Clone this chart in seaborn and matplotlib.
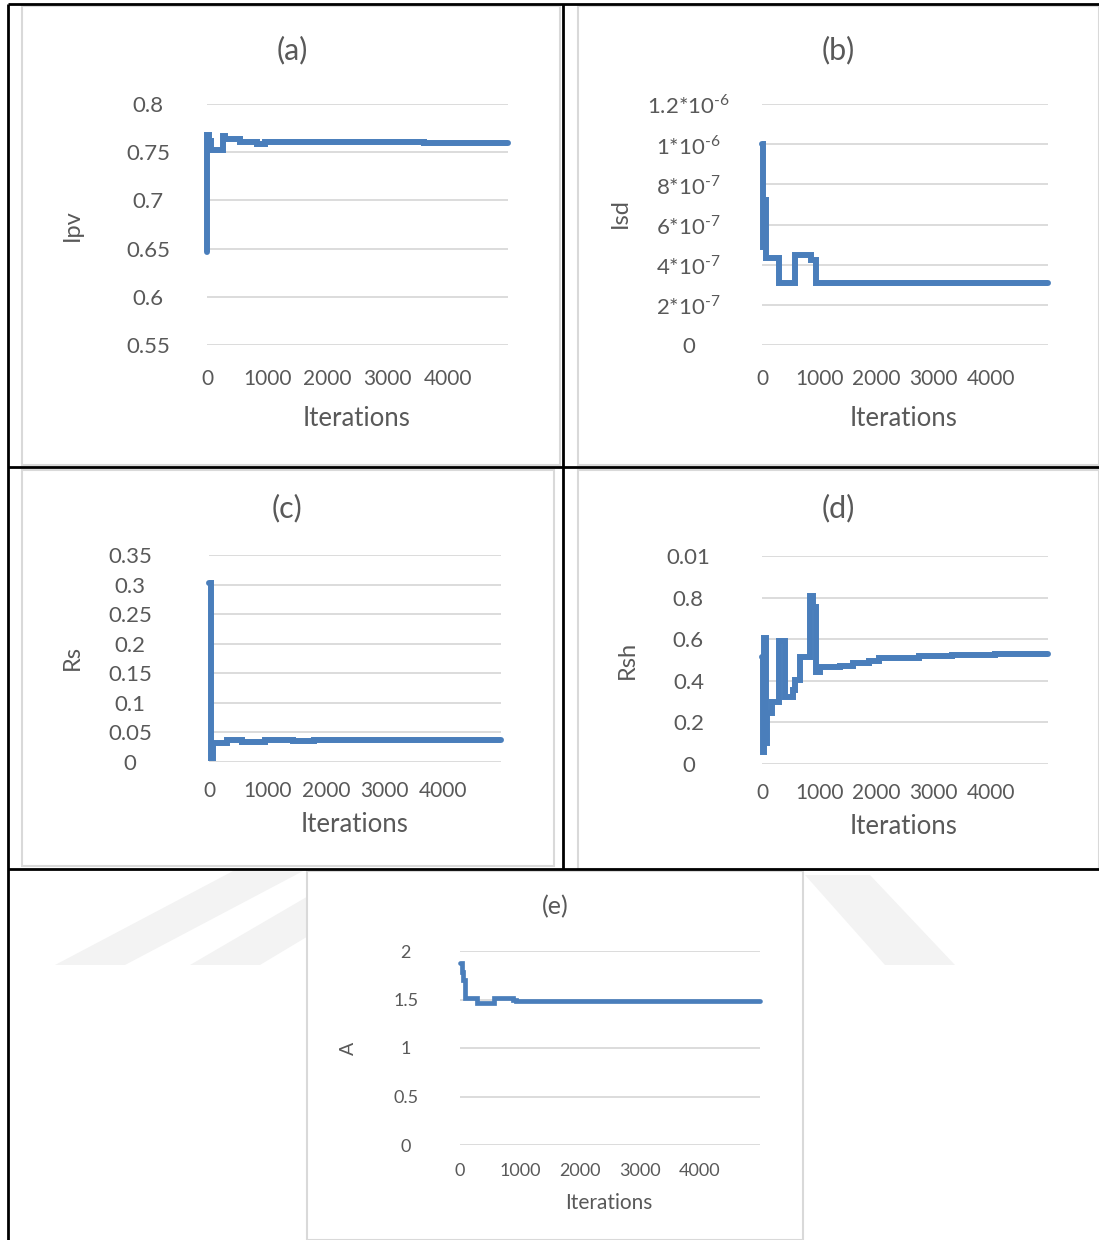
import matplotlib
matplotlib.use("Agg")
import matplotlib.pyplot as plt
from matplotlib.patches import Rectangle, Polygon
import pandas as pd
import seaborn as sns

# ---- data -----------------------------------------------------------------
ipv_iter = [0, 5, 40, 60, 267, 300, 550, 830, 970, 3600, 5000]
ipv_vals = [0.646, 0.768, 0.762, 0.752, 0.767, 0.764, 0.761, 0.759, 0.761, 0.760, 0.760]

isd_iter = [0, 20, 60, 75, 300, 570, 850, 940, 5000]
isd_vals = [1.0e-6, 4.9e-7, 7.2e-7, 4.31e-7, 3.07e-7, 4.48e-7, 4.23e-7, 3.07e-7, 3.07e-7]

rs_iter = [0, 40, 70, 300, 560, 960, 1440, 1800, 5000]
rs_vals = [0.303, 0.007, 0.032, 0.037, 0.034, 0.037, 0.036, 0.037, 0.037]

rsh_iter = [0, 15, 40, 70, 90, 168, 302, 330, 400, 545, 574, 661, 835, 893, 951,
            1009, 1357, 1588, 1878, 2052, 2748, 3327, 4081, 5000]
rsh_vals = [0.516, 0.060, 0.604, 0.100, 0.245, 0.300, 0.593, 0.590, 0.324, 0.356,
            0.404, 0.513, 0.808, 0.756, 0.444, 0.465, 0.470, 0.484, 0.497, 0.508,
            0.519, 0.522, 0.529, 0.529]

a_iter = [0, 30, 55, 80, 280, 560, 890, 940, 5000]
a_vals = [1.873, 1.78, 1.70, 1.513, 1.468, 1.52, 1.50, 1.485, 1.485]

x_ticks = [0, 1000, 2000, 3000, 4000]
x_tick_labels = ["0", "1000", "2000", "3000", "4000"]

ipv_ticks = [0.55, 0.6, 0.65, 0.7, 0.75, 0.8]
ipv_labels = ["0.55", "0.6", "0.65", "0.7", "0.75", "0.8"]
isd_ticks = [0, 2e-7, 4e-7, 6e-7, 8e-7, 1e-6, 1.2e-6]
isd_labels = ["0", "2*10$^{\\mathregular{\u20107}}$", "4*10$^{\\mathregular{\u20107}}$",
              "6*10$^{\\mathregular{\u20107}}$", "8*10$^{\\mathregular{\u20107}}$",
              "1*10$^{\\mathregular{\u20106}}$", "1.2*10$^{\\mathregular{\u20106}}$"]
rs_ticks = [0, 0.05, 0.1, 0.15, 0.2, 0.25, 0.3, 0.35]
rs_labels = ["0", "0.05", "0.1", "0.15", "0.2", "0.25", "0.3", "0.35"]
rsh_ticks = [0, 0.2, 0.4, 0.6, 0.8, 1.0]
rsh_labels = ["0", "0.2", "0.4", "0.6", "0.8", "0.01"]
a_ticks = [0, 0.5, 1, 1.5, 2]
a_labels = ["0", "0.5", "1", "1.5", "2"]

# ---- styling ----------------------------------------------------------------
sns.set_theme(style="white")
plt.rcParams["font.family"] = ["Lato", "DejaVu Sans"]
plt.rcParams["mathtext.fontset"] = "custom"
plt.rcParams["mathtext.rm"] = "Lato"

W, H = 1099, 1240
TXT = "#595959"
LINE = "#4A7EBB"
GRID = "#D9D9D9"

fig = plt.figure(figsize=(W / 100, H / 100), dpi=100)
fig.patch.set_facecolor("white")

# page layer: frames, chart borders and faint watermark
bg = fig.add_axes([0, 0, 1, 1])
bg.set_xlim(0, W)
bg.set_ylim(H, 0)
bg.axis("off")

wm = "#F3F3F3"
for pts in [
    [(55, 965), (125, 965), (305, 870), (235, 870)],
    [(190, 965), (260, 965), (310, 935), (310, 895)],
    [(805, 875), (870, 875), (955, 965), (885, 965)],
]:
    bg.add_patch(Polygon(pts, closed=True, facecolor=wm, edgecolor="none", zorder=0))

for (x0, y0, x1, y1) in [(22, 6, 560, 465), (578, 6, 1099, 465),
                         (22, 470, 554, 866), (578, 470, 1099, 869),
                         (307, 871, 803, 1240)]:
    bg.add_patch(Rectangle((x0, y0), x1 - x0, y1 - y0, facecolor="white",
                           edgecolor="#D9D9D9", lw=1.5, zorder=1))

blk = dict(color="black", lw=2, zorder=3, solid_capstyle="butt")
bg.plot([8, W], [4, 4], **blk)
bg.plot([8, 8], [4, H], **blk)
bg.plot([563, 563], [4, 869], **blk)
bg.plot([8, W], [467, 467], **blk)
bg.plot([8, W], [869, 869], **blk)


def make_panel(x0, x1, ytop, ybot, xs, ys, ylim, yticks, ylabels,
               ypad, ytick_fs, xtick_fs, xpad, lw):
    ax = fig.add_axes([x0 / W, 1 - ybot / H, (x1 - x0) / W, (ybot - ytop) / H])
    ax.set_facecolor("none")
    df = pd.DataFrame({"Iterations": xs, "value": ys})
    sns.lineplot(data=df, x="Iterations", y="value", ax=ax, color=LINE,
                 linewidth=lw, drawstyle="steps-post", clip_on=False,
                 solid_joinstyle="miter", solid_capstyle="round", zorder=5)
    ax.set_xlim(0, 5000)
    ax.set_ylim(*ylim)
    ax.set_xticks(x_ticks)
    ax.set_xticklabels(x_tick_labels)
    ax.set_yticks(yticks)
    ax.set_yticklabels(ylabels)
    ax.grid(axis="y", color=GRID, lw=1.3)
    ax.grid(axis="x", visible=False)
    for s in ax.spines.values():
        s.set_visible(False)
    ax.tick_params(axis="both", length=0, labelcolor=TXT)
    ax.tick_params(axis="y", pad=ypad, labelsize=ytick_fs)
    ax.tick_params(axis="x", pad=xpad, labelsize=xtick_fs)
    for lbl in ax.get_yticklabels():
        lbl.set_horizontalalignment("center")
    ax.set_xlabel("")
    ax.set_ylabel("")
    return ax


make_panel(207, 508, 104, 345, ipv_iter, ipv_vals, (0.55, 0.8), ipv_ticks, ipv_labels,
           42.5, 16, 15, 17.5, 4.3)
make_panel(762, 1048, 104, 345, isd_iter, isd_vals, (0, 1.2e-6), isd_ticks, isd_labels,
           53, 16, 15, 17.5, 4.3)
make_panel(209, 501, 555, 762, rs_iter, rs_vals, (0, 0.35), rs_ticks, rs_labels,
           57, 16, 15, 13.5, 4.3)
make_panel(762, 1048, 556, 764, rsh_iter, rsh_vals, (0, 1.0), rsh_ticks, rsh_labels,
           53, 16, 15, 13.5, 4.3)
make_panel(460, 760, 951, 1145, a_iter, a_vals, (0, 2), a_ticks, a_labels,
           39, 13, 13, 13, 3.4)


def ftext(x, y, s, fs, rot=0):
    fig.text(x / W, 1 - y / H, s, ha="center", va="center", fontsize=fs,
             color=TXT, rotation=rot)


# titles
ftext(292, 50, "(a)", 22)
ftext(838, 50, "(b)", 22)
ftext(287, 508, "(c)", 22)
ftext(838, 508, "(d)", 22)
ftext(555, 907, "(e)", 18)

# x-axis titles
ftext(357, 418, "Iterations", 18.5)
ftext(904, 418, "Iterations", 18.5)
ftext(355, 824, "Iterations", 18.5)
ftext(904, 826, "Iterations", 18.5)
ftext(609, 1203, "Iterations", 15)

# y-axis titles
ftext(72, 225, "Ipv", 17, 90)
ftext(620, 213, "Isd", 17, 90)
ftext(72, 658, "Rs", 17, 90)
ftext(627, 660, "Rsh", 17, 90)
ftext(348, 1048, "A", 14, 90)

fig.savefig("out.png", dpi=100, facecolor="white")
